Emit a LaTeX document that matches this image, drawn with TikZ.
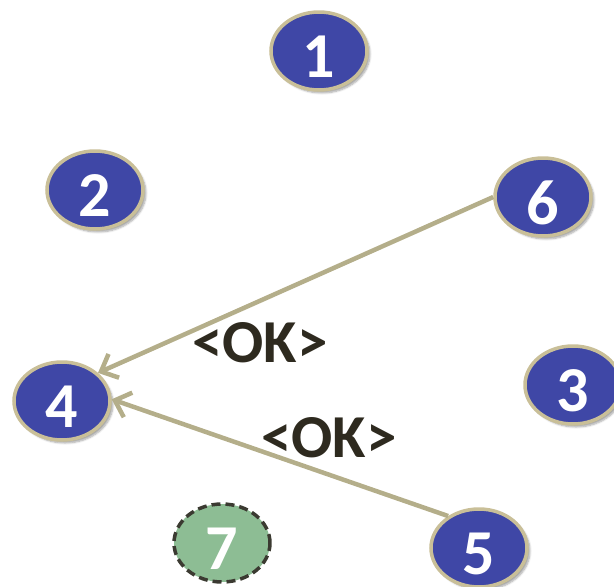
\documentclass[tikz,border=0pt]{standalone}
\usepackage{fontspec}
\setmainfont{Carlito}
\usetikzlibrary{shapes.geometric,arrows.meta,shadows.blur}
\definecolor{nodeblue}{HTML}{3F47A6}
\definecolor{rimtan}{HTML}{C9BF98}
\definecolor{edgetan}{HTML}{B4AE8A}
\definecolor{txtdark}{HTML}{2E2A1F}
\definecolor{nodegreen}{HTML}{8DBD94}
\definecolor{dashdark}{HTML}{3B3A31}
\tikzset{
  numnode/.style={ellipse, minimum width=96pt, minimum height=78pt, inner sep=0pt,
    fill=nodeblue, draw=rimtan, line width=3.5pt,
    blur shadow={shadow xshift=3pt, shadow yshift=-3pt, shadow opacity=35, shadow blur steps=6}},
  greennode/.style={numnode, fill=nodegreen, draw=dashdark, dash pattern=on 9pt off 5pt, blur shadow={shadow opacity=0}},
  digittext/.style={text=white, font=\bfseries\fontsize{64}{64}\selectfont, inner sep=0pt},
  conn/.style={draw=edgetan, line width=4.5pt, -{Straight Barb[length=14pt, width=26pt, line width=4.5pt]}},
  oklabel/.style={text=txtdark, font=\bfseries\fontsize{61}{61}\selectfont, inner sep=0pt}
}
\begin{document}
\begin{tikzpicture}[x=1pt, y=-1pt]
\useasboundingbox (0,0) rectangle (614,587);
\node[numnode] (n1) at (319,51) {};
\node[numnode] (n2) at (95,190) {};
\node[numnode] (n3) at (573,385) {};
\node[numnode] (n4) at (62,401) {};
\node[numnode] (n5) at (479,548) {};
\node[numnode] (n6) at (543,197) {};
\node[greennode] (n7) at (222,543) {};
\foreach \n/\t in {n1/1,n2/2,n3/3,n4/4,n5/5,n6/6,n7/7}
  \node[digittext] at ([yshift=-6pt]\n.center) {\t};
\draw[conn] (n6.180) -- (n4.38);
\draw[conn] (n5.134) -- (n4.2);
\node[oklabel] (ok1) at (260,343) {<OK>};
\node[oklabel] (ok2) at (329,438) {<OK>};
\end{tikzpicture}
\end{document}
